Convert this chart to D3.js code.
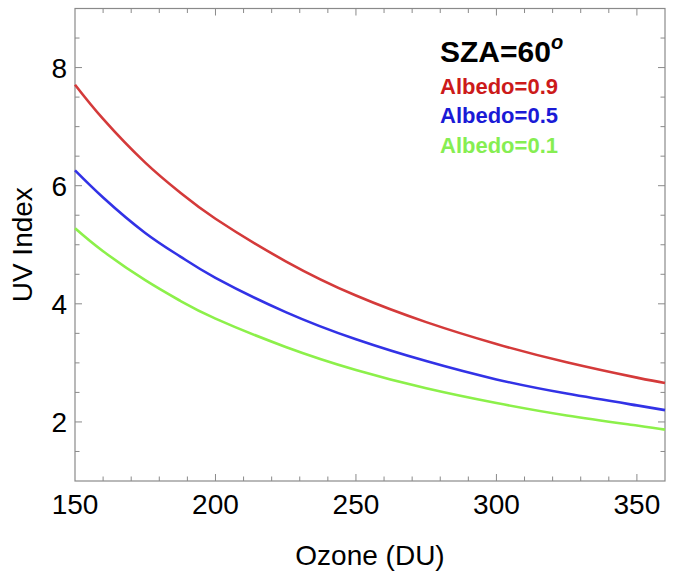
<!DOCTYPE html>
<html>
<head>
<meta charset="utf-8">
<script src="https://cdn.jsdelivr.net/npm/d3@7"></script>
<style>
  html, body { margin: 0; padding: 0; background: #fff; }
  svg { display: block; font-family: "Liberation Sans", Arial, sans-serif; }
</style>
</head>
<body>
<svg id="chart" width="674" height="574"></svg>
<script>
// ---- data ----
const ozone      = [150, 160, 175, 187.5, 200, 225, 250, 275, 300, 325, 350, 360];
const albedo09   = [7.71, 7.13, 6.39, 5.88, 5.44, 4.72, 4.14, 3.69, 3.32, 3.01, 2.75, 2.66];
const albedo05   = [6.26, 5.80, 5.20, 4.80, 4.44, 3.86, 3.40, 3.03, 2.72, 2.48, 2.28, 2.20];
const albedo01   = [5.28, 4.89, 4.40, 4.05, 3.75, 3.27, 2.88, 2.57, 2.32, 2.11, 1.94, 1.87];
const seriesNames  = ["Albedo=0.9", "Albedo=0.5", "Albedo=0.1"];
const seriesColors = ["#d43a3a", "#3232e6", "#8cf04a"];
const legendColors = ["#cc1a1a", "#1a1ad6", "#86ee52"];
const xTicks = [150, 200, 250, 300, 350];
const yTicks = [2, 4, 6, 8];
const title = "SZA=60";
const xTitle = "Ozone (DU)";
const yTitle = "UV Index";

(function () {
const svg = d3.select("#chart");
const pLeft = 75, pRight = 665, pTop = 8.5, pBottom = 481;
const x = d3.scaleLinear().domain([150, 360]).range([pLeft, pRight]);
const y = d3.scaleLinear().domain([1, 9]).range([pBottom, pTop]);

const frameColor = "#8a8a8a";
const majorLen = 7, minorLen = 4.5;
const xMinor = d3.range(150, 361, 10).filter(v => !xTicks.includes(v));
const yMinor = d3.range(1, 9.01, 0.5).filter(v => !yTicks.includes(v));

// frame
svg.append("rect").attr("x", pLeft).attr("y", pTop)
  .attr("width", pRight - pLeft).attr("height", pBottom - pTop)
  .attr("fill", "none").attr("stroke", frameColor).attr("stroke-width", 1.2);

// ticks (inward, all four sides)
function addXTicks(vals, len) {
  const g = svg.append("g").attr("stroke", frameColor).attr("stroke-width", 1);
  vals.forEach(v => {
    if (v <= 150 || v >= 360) return;
    g.append("line").attr("x1", x(v)).attr("x2", x(v)).attr("y1", pBottom).attr("y2", pBottom - len);
    g.append("line").attr("x1", x(v)).attr("x2", x(v)).attr("y1", pTop).attr("y2", pTop + len);
  });
}
function addYTicks(vals, len) {
  const g = svg.append("g").attr("stroke", frameColor).attr("stroke-width", 1);
  vals.forEach(v => {
    if (v <= 1 || v >= 9) return;
    g.append("line").attr("y1", y(v)).attr("y2", y(v)).attr("x1", pLeft).attr("x2", pLeft + len);
    g.append("line").attr("y1", y(v)).attr("y2", y(v)).attr("x1", pRight).attr("x2", pRight - len);
  });
}
addXTicks(xTicks, majorLen); addXTicks(xMinor, minorLen);
addYTicks(yTicks, majorLen); addYTicks(yMinor, minorLen);

// tick labels
svg.append("g").selectAll("text").data(xTicks).join("text")
  .attr("x", d => x(d)).attr("y", 514)
  .attr("text-anchor", "middle").attr("font-size", 28).attr("fill", "#000")
  .text(d => d);
svg.append("g").selectAll("text").data(yTicks).join("text")
  .attr("x", 67).attr("y", d => y(d) + 10)
  .attr("text-anchor", "end").attr("font-size", 28).attr("fill", "#000")
  .text(d => d);

// axis titles
svg.append("text").attr("x", (pLeft + pRight) / 2).attr("y", 565)
  .attr("text-anchor", "middle").attr("font-size", 28).text(xTitle);
svg.append("text").attr("transform", `translate(31.5,${(pTop + pBottom) / 2}) rotate(-90)`)
  .attr("text-anchor", "middle").attr("font-size", 28).text(yTitle);

// curves
const allSeries = [albedo09, albedo05, albedo01];
const line = d3.line().x((d, i) => x(ozone[i])).y(d => y(d)).curve(d3.curveNatural);
svg.append("g").selectAll("path").data(allSeries).join("path")
  .attr("d", d => line(d))
  .attr("fill", "none")
  .attr("stroke", (d, i) => seriesColors[i])
  .attr("stroke-width", 2.6);

// legend
const t = svg.append("text").attr("x", 440).attr("y", 62)
  .attr("font-size", 30).attr("font-weight", "bold").attr("fill", "#000");
t.append("tspan").text(title);
t.append("tspan").attr("dy", -13).attr("font-size", 20).attr("font-style", "italic").text("o");

svg.append("g").selectAll("text").data(seriesNames).join("text")
  .attr("x", 440).attr("y", (d, i) => 94 + i * 29.4)
  .attr("font-size", 22).attr("font-weight", "bold")
  .attr("fill", (d, i) => legendColors[i])
  .text(d => d);
})();
</script>
</body>
</html>
